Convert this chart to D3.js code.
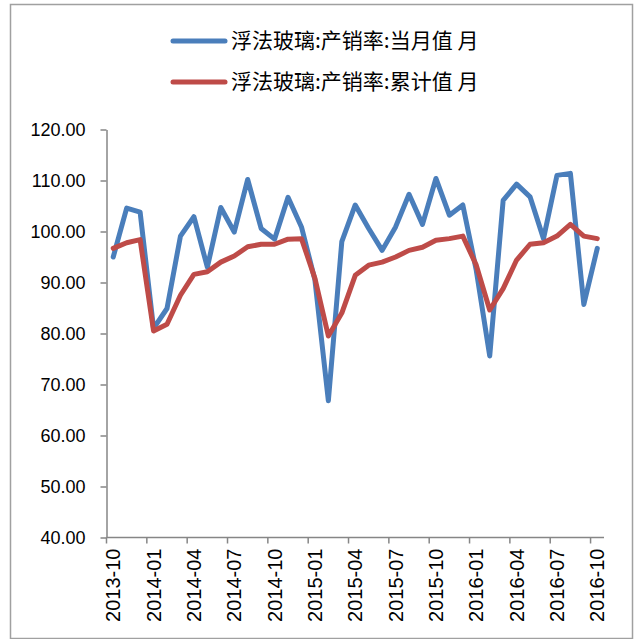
<!DOCTYPE html>
<html>
<head>
<meta charset="utf-8">
<script src="https://cdn.jsdelivr.net/npm/d3@7/dist/d3.min.js"></script>
<style>
  html, body { margin: 0; padding: 0; background: #fff; }
  svg { display: block; }
</style>
</head>
<body>
<svg id="chart" width="636" height="639"></svg>
<script>
const categories = [
  "2013-10","2013-11","2013-12",
  "2014-01","2014-02","2014-03","2014-04","2014-05","2014-06",
  "2014-07","2014-08","2014-09","2014-10","2014-11","2014-12",
  "2015-01","2015-02","2015-03","2015-04","2015-05","2015-06",
  "2015-07","2015-08","2015-09","2015-10","2015-11","2015-12",
  "2016-01","2016-02","2016-03","2016-04","2016-05","2016-06",
  "2016-07","2016-08","2016-09","2016-10"
];
const monthlyValues = [95.0, 104.6, 103.8, 81.0, 84.9, 99.1, 102.9, 93.0, 104.7, 99.9, 110.2, 100.6, 98.5, 106.7, 100.9, 90.5, 66.8, 98.0, 105.2, 100.6, 96.3, 100.9, 107.3, 101.4, 110.4, 103.2, 105.2, 92.4, 75.6, 106.1, 109.3, 106.8, 98.6, 111.0, 111.4, 85.7, 96.7];
const cumulativeValues = [96.7, 97.8, 98.4, 80.5, 81.8, 87.5, 91.6, 92.1, 94.0, 95.2, 97.0, 97.5, 97.5, 98.5, 98.6, 90.8, 79.5, 84.0, 91.4, 93.4, 94.0, 95.0, 96.3, 96.9, 98.3, 98.6, 99.1, 93.4, 84.6, 88.8, 94.4, 97.5, 97.8, 99.1, 101.4, 99.1, 98.6];
const seriesNames = ["浮法玻璃:产销率:当月值 月", "浮法玻璃:产销率:累计值 月"];
const xTickLabels = ["2013-10","2014-01","2014-04","2014-07","2014-10","2015-01","2015-04","2015-07","2015-10","2016-01","2016-04","2016-07","2016-10"];
const yTicks = [40, 50, 60, 70, 80, 90, 100, 110, 120];

const svg = d3.select("#chart");
const axisColor = "#868686";
const colors = ["#4a7ebb", "#be4b48"];

// outer border
svg.append("rect").attr("x", 10.5).attr("y", 4.5).attr("width", 622).attr("height", 634)
  .attr("fill", "none").attr("stroke", "#a0a0a0").attr("stroke-width", 1.5);

const x = d3.scaleBand().domain(categories).range([106.5, 604]).padding(0);
const y = d3.scaleLinear().domain([40, 120]).range([537.5, 129.5]);
const cx = d => x(d) + x.bandwidth() / 2;

// Y axis
const yAxis = svg.append("g").attr("transform", "translate(106.5,0)")
  .call(d3.axisLeft(y).tickValues(yTicks).tickFormat(d => d.toFixed(2)).tickSize(6).tickSizeOuter(0).tickPadding(15));
yAxis.select(".domain").attr("stroke", axisColor).attr("stroke-width", 1.5);
yAxis.selectAll(".tick line").attr("stroke", axisColor).attr("stroke-width", 1.5);
yAxis.selectAll(".tick text").attr("fill", "#000").style("font-family", "'Liberation Sans', Arial, sans-serif").style("font-size", "18px");

// X axis line
svg.append("line").attr("x1", 106.5).attr("x2", 604).attr("y1", y(40)).attr("y2", y(40))
  .attr("stroke", axisColor).attr("stroke-width", 1.5);
// tick marks at category boundaries
svg.append("g").selectAll("line").data(xTickLabels).join("line")
  .attr("x1", d => x(d)).attr("x2", d => x(d))
  .attr("y1", y(40)).attr("y2", y(40) + 6)
  .attr("stroke", axisColor).attr("stroke-width", 1.5);
// labels
svg.append("g").selectAll("text").data(xTickLabels).join("text")
  .attr("transform", d => `translate(${cx(d) + 7},${y(40) + 11}) rotate(-90)`)
  .attr("text-anchor", "end")
  .style("font-family", "'Liberation Sans', Arial, sans-serif").style("font-size", "20px")
  .attr("fill", "#000")
  .text(d => d);

// lines
const line = d3.line().x((d, i) => cx(categories[i])).y(d => y(d));
[monthlyValues, cumulativeValues].forEach((vals, k) => {
  svg.append("path").datum(vals).attr("d", line)
    .attr("fill", "none").attr("stroke", colors[k]).attr("stroke-width", 5)
    .attr("stroke-linejoin", "round").attr("stroke-linecap", "round");
});

// legend
const legendY = [41, 82];
seriesNames.forEach((name, k) => {
  svg.append("line").attr("x1", 173).attr("x2", 225).attr("y1", legendY[k]).attr("y2", legendY[k])
    .attr("stroke", colors[k]).attr("stroke-width", 5).attr("stroke-linecap", "round");
  svg.append("text").attr("x", 231).attr("y", legendY[k]).attr("dy", "0.35em")
    .style("font-family", "'Noto Sans CJK SC', sans-serif").style("font-size", "21px")
    .attr("fill", "#000").text(name);
});
</script>
</body>
</html>
